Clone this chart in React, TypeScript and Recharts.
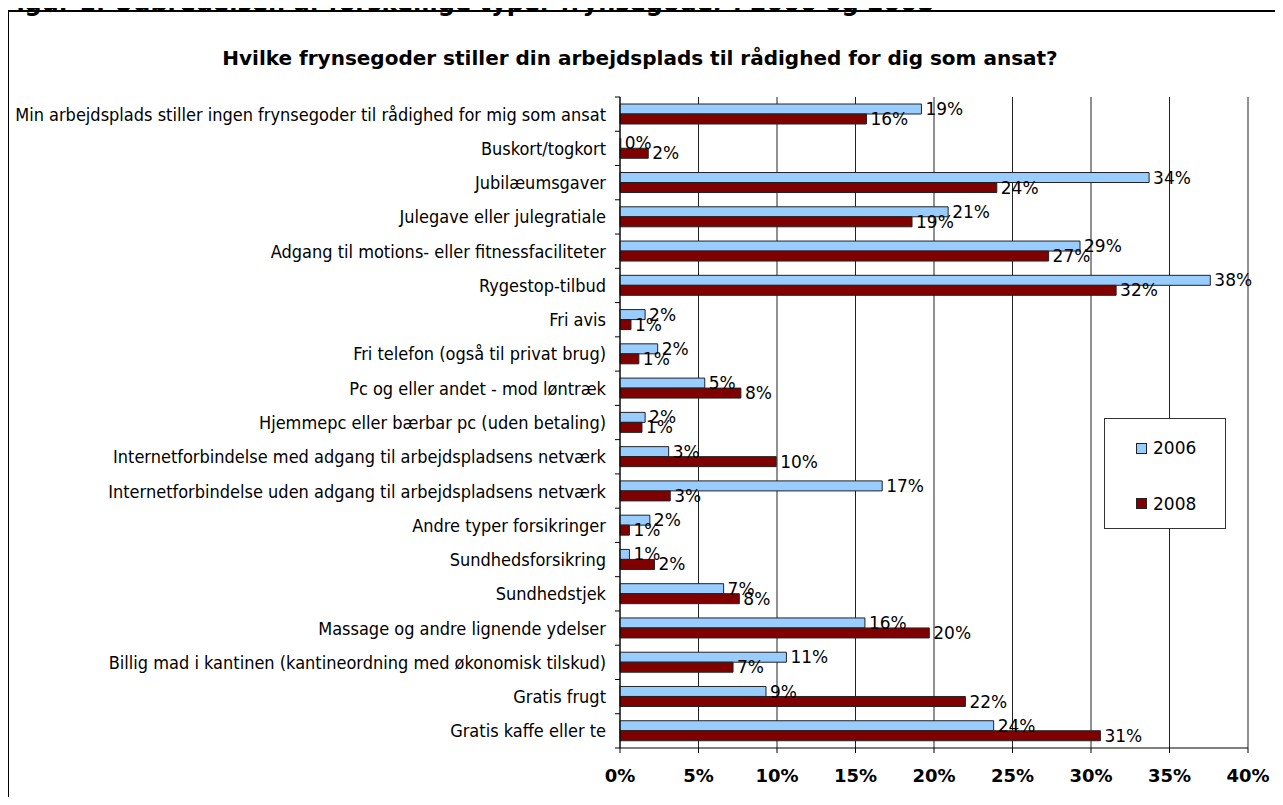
import React from "react";
import {
  BarChart,
  Bar,
  XAxis,
  YAxis,
  CartesianGrid,
  Legend,
  LabelList,
} from "recharts";

const categories = [
  "Min arbejdsplads stiller ingen frynsegoder til rådighed for mig som ansat",
  "Buskort/togkort",
  "Jubilæumsgaver",
  "Julegave eller julegratiale",
  "Adgang til motions- eller fitnessfaciliteter",
  "Rygestop-tilbud",
  "Fri avis",
  "Fri telefon (også til privat brug)",
  "Pc og eller andet - mod løntræk",
  "Hjemmepc eller bærbar pc (uden betaling)",
  "Internetforbindelse med adgang til arbejdspladsens netværk",
  "Internetforbindelse uden adgang til arbejdspladsens netværk",
  "Andre typer forsikringer",
  "Sundhedsforsikring",
  "Sundhedstjek",
  "Massage og andre lignende ydelser",
  "Billig mad i kantinen (kantineordning med økonomisk tilskud)",
  "Gratis frugt",
  "Gratis kaffe eller te",
];

// percent
const values2006 = [
  19.2, 0.05, 33.7, 20.9, 29.3, 37.6, 1.6, 2.4, 5.4, 1.6, 3.1, 16.7, 1.9, 0.6,
  6.6, 15.6, 10.6, 9.3, 23.8,
];
const values2008 = [
  15.7, 1.8, 24.0, 18.6, 27.3, 31.6, 0.7, 1.2, 7.7, 1.4, 9.95, 3.2, 0.6, 2.2,
  7.6, 19.7, 7.2, 22.0, 30.6,
];

const xTicks = [0, 5, 10, 15, 20, 25, 30, 35, 40];

const data = categories.map((name, i) => ({
  name,
  v2006: values2006[i],
  v2008: values2008[i],
}));

const W = 1283;
const H = 805;
const TOP = 97;
const X_AXIS_H = 57;
const BAND = (H - TOP - X_AXIS_H) / categories.length;
const FONT = "'DejaVu Sans', Verdana, sans-serif";
const COND = "'DejaVu Sans Condensed', 'DejaVu Sans', sans-serif";

function CategoryTick(props: any) {
  const { x, y, payload, index } = props;
  const axisX = x + 14;
  return (
    <g>
      <text
        x={x}
        y={y}
        dy="0.36em"
        textAnchor="end"
        fontFamily={COND}
        fontStretch="condensed"
        fontSize={18}
        fill="#000"
      >
        {payload.value}
      </text>
      <line x1={axisX - 5} x2={axisX} y1={y - BAND / 2} y2={y - BAND / 2} stroke="#000" />
      {index === categories.length - 1 && (
        <line x1={axisX - 5} x2={axisX} y1={y + BAND / 2} y2={y + BAND / 2} stroke="#000" />
      )}
    </g>
  );
}

function LegendBox(props: any) {
  const { payload } = props;
  return (
    <div
      style={{
        width: 122,
        height: 111,
        boxSizing: "border-box",
        border: "1px solid #333",
        background: "#fff",
        position: "relative",
      }}
    >
      {(payload || []).map((entry: any, i: number) => (
        <div
          key={entry.value}
          style={{
            position: "absolute",
            left: 31,
            top: 19 + i * 55.5,
            display: "flex",
            alignItems: "center",
            fontFamily: FONT,
            fontSize: 17,
            color: "#000",
          }}
        >
          <span
            style={{
              display: "inline-block",
              width: 9,
              height: 9,
              background: entry.color,
              border: "1px solid #222",
              marginRight: 6,
            }}
          />
          {entry.value}
        </div>
      ))}
    </div>
  );
}

export default function App() {
  return (
    <div
      style={{
        position: "relative",
        width: W,
        height: H,
        margin: -8,
        overflow: "hidden",
        background: "#fff",
      }}
    >
      <div
        style={{
          position: "absolute",
          left: 0,
          top: -9,
          fontFamily: FONT,
          fontWeight: "bold",
          fontSize: 24,
          lineHeight: "24px",
          whiteSpace: "nowrap",
          zIndex: 2,
        }}
      >
        Figur 1: Udbredelsen af forskellige typer frynsegoder i 2006 og 2008
      </div>
      <div
        style={{
          position: "absolute",
          left: 7,
          top: 10,
          width: 1320,
          height: 840,
          border: "2px solid #000",
        }}
      />
      <div
        style={{
          position: "absolute",
          left: 0,
          top: 46,
          width: 1280,
          textAlign: "center",
          fontFamily: FONT,
          fontWeight: "bold",
          fontSize: 20,
          whiteSpace: "nowrap",
        }}
      >
        Hvilke frynsegoder stiller din arbejdsplads til rådighed for dig som ansat?
      </div>
      <div style={{ position: "absolute", left: 0, top: 0 }}>
        <BarChart
          width={W}
          height={H}
          data={data}
          layout="vertical"
          margin={{ top: TOP, right: 35, bottom: 0, left: 0 }}
          barCategoryGap={7}
          barGap={0}
        >
          <CartesianGrid horizontal={false} stroke="#222" />
          <XAxis
            type="number"
            domain={[0, 40]}
            ticks={xTicks}
            tickFormatter={(v) => `${v}%`}
            height={X_AXIS_H}
            tickSize={5}
            tickMargin={16}
            axisLine={{ stroke: "#000" }}
            tickLine={{ stroke: "#000" }}
            tick={{ fill: "#000", fontSize: 18, fontWeight: "bold", fontFamily: FONT }}
          />
          <XAxis
            xAxisId="top"
            orientation="top"
            type="number"
            domain={[0, 40]}
            height={0}
            tick={false}
            tickLine={false}
            axisLine={{ stroke: "#808080" }}
          />
          <YAxis
            type="category"
            dataKey="name"
            width={620}
            tickSize={5}
            tickMargin={9}
            tickLine={false}
            interval={0}
            axisLine={{ stroke: "#000" }}
            tick={<CategoryTick />}
          />
          <Legend
            layout="vertical"
            align="center"
            verticalAlign="middle"
            content={<LegendBox />}
            wrapperStyle={{ left: 1104, top: 418, width: 122, height: 111 }}
          />
          <Bar
            dataKey="v2006"
            name="2006"
            fill="#99CCFF"
            stroke="#222"
            strokeWidth={1}
            isAnimationActive={false}
          >
            <LabelList
              dataKey="v2006"
              position="right"
              offset={4}
              formatter={(v: any) => `${Math.round(v)}%`}
              style={{ fontSize: 17, fontFamily: FONT, fill: "#000" }}
            />
          </Bar>
          <Bar
            dataKey="v2008"
            name="2008"
            fill="#800000"
            stroke="#222"
            strokeWidth={1}
            isAnimationActive={false}
          >
            <LabelList
              dataKey="v2008"
              position="right"
              offset={4}
              formatter={(v: any) => `${Math.round(v)}%`}
              style={{ fontSize: 17, fontFamily: FONT, fill: "#000" }}
            />
          </Bar>
        </BarChart>
      </div>
    </div>
  );
}
